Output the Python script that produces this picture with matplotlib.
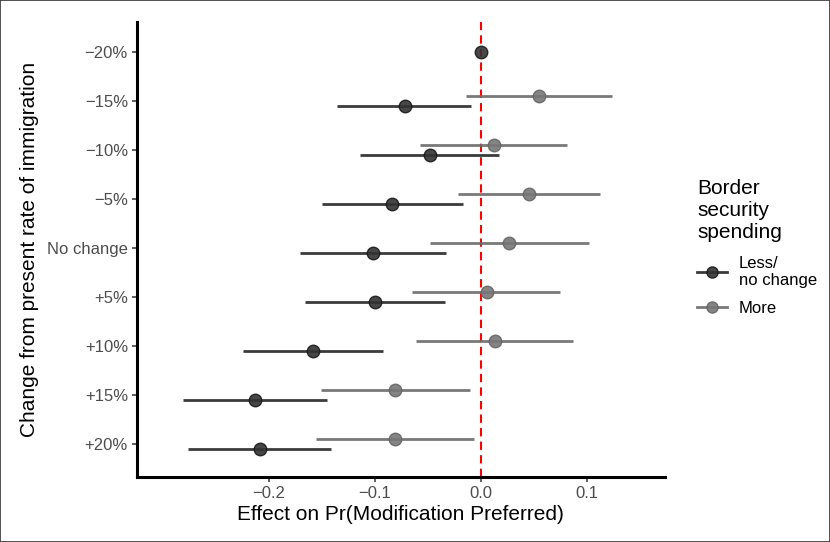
import numpy as np
import matplotlib.pyplot as plt
from matplotlib.lines import Line2D
from matplotlib.patches import Rectangle

plt.rcParams['font.family'] = ['Liberation Sans', 'DejaVu Sans']

# categories top to bottom
niveles = ['\u221220%', '\u221215%', '\u221210%', '\u22125%', 'No change',
           '+5%', '+10%', '+15%', '+20%']

# Less / no change (first level is the reference, no interval)
menos_est = [0.0, -0.072, -0.048, -0.084, -0.102, -0.100, -0.158, -0.213, -0.208]
menos_lo = [np.nan, -0.136, -0.114, -0.150, -0.171, -0.166, -0.224, -0.281, -0.276]
menos_hi = [np.nan, -0.009, 0.017, -0.017, -0.033, -0.034, -0.092, -0.145, -0.141]

# More (no estimate for the reference level)
mas_est = [np.nan, 0.055, 0.012, 0.045, 0.027, 0.006, 0.013, -0.081, -0.081]
mas_lo = [np.nan, -0.014, -0.057, -0.022, -0.048, -0.065, -0.061, -0.151, -0.156]
mas_hi = [np.nan, 0.124, 0.081, 0.112, 0.102, 0.075, 0.087, -0.010, -0.006]

col_menos = '#262626'
col_mas = '#6b6b6b'

fig = plt.figure(figsize=(8.3, 5.42), dpi=100)
ax = fig.add_axes([0.165, 0.12, 0.636, 0.8394])

y = np.arange(len(niveles), dtype=float)
y_menos = y + 0.1
y_mas = y - 0.1
y_menos[0] = y[0]

ax.axvline(0, color='#ff0000', ls=(0, (4, 2.5)), lw=1.5, zorder=1)

ax.hlines(y_mas, mas_lo, mas_hi, color=col_mas, lw=2, alpha=0.9, zorder=2)
ax.plot(mas_est, y_mas, 'o', ms=9, color='#777777', mec='#666666', alpha=0.9, zorder=3)
ax.hlines(y_menos, menos_lo, menos_hi, color=col_menos, lw=2, alpha=0.9, zorder=2)
ax.plot(menos_est, y_menos, 'o', ms=9, color='#333333', mec='#1a1a1a', alpha=0.9, zorder=3)

ax.set_xlim(-0.3245, 0.1736)
ax.set_ylim(8.67, -0.62)
ax.set_yticks(y)
ax.set_yticklabels(niveles)
ax.set_xticks([-0.2, -0.1, 0.0, 0.1])
ax.set_xticklabels(['\u22120.2', '\u22120.1', '0.0', '0.1'])

for s in ['top', 'right']:
    ax.spines[s].set_visible(False)
for s in ['left', 'bottom']:
    ax.spines[s].set_linewidth(2.2)
    ax.spines[s].set_color('black')
ax.tick_params(axis='both', colors='#333333', length=3.5, width=1.1,
               labelsize=12, labelcolor='#4d4d4d', pad=3)

ax.set_xlabel('Effect on Pr(Modification Preferred)', fontsize=15, labelpad=3)
ax.set_ylabel('Change from present rate of immigration', fontsize=15, labelpad=6)

handles = [
    Line2D([], [], color=col_menos, lw=2, marker='o', ms=8, mfc='#333333', mec='#1a1a1a', alpha=0.9),
    Line2D([], [], color=col_mas, lw=2, marker='o', ms=8, mfc='#777777', mec='#666666', alpha=0.9),
]
leg = fig.legend(handles, ['Less/\nno change', 'More'], title='Border\nsecurity\nspending',
                 loc='upper left', bbox_to_anchor=(0.822, 0.697), frameon=False,
                 fontsize=12, title_fontsize=15, alignment='left',
                 handlelength=1.8, handletextpad=0.7, labelspacing=0.8)

fig.patches.append(Rectangle((0, 0), 1, 1, transform=fig.transFigure, fill=False,
                             edgecolor='#333333', lw=1.2))

fig.savefig('out.png', dpi=100)
